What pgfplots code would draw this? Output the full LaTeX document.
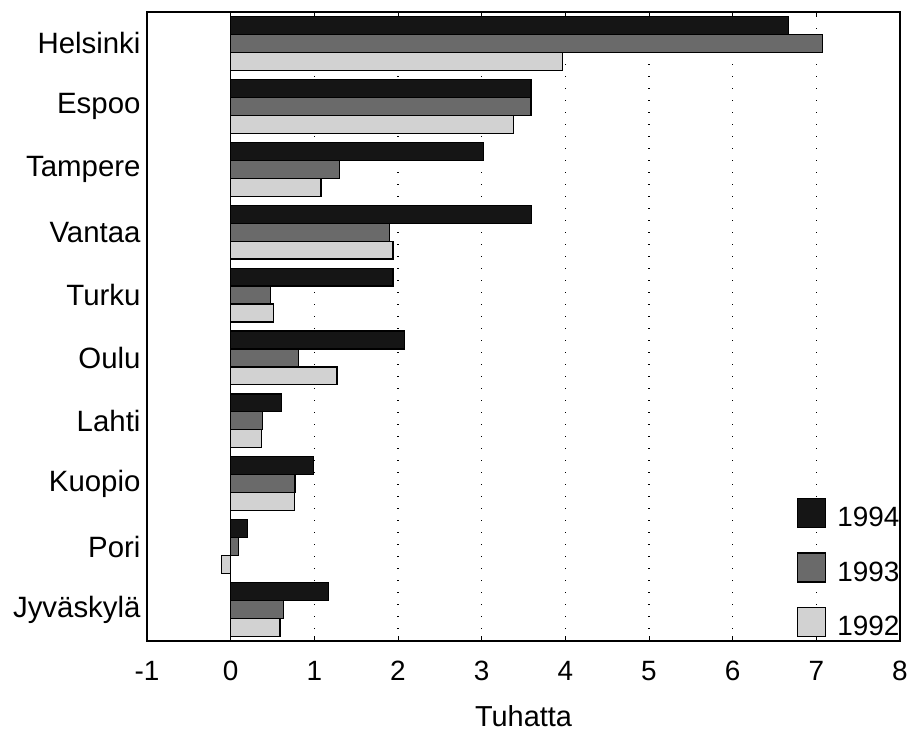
\documentclass[border=0pt]{standalone}
\usepackage{pgfplots}
\pgfplotsset{compat=1.18}
\usepackage{fontspec}
\setmainfont{Liberation Sans}
\definecolor{c94}{HTML}{151515}
\definecolor{c93}{HTML}{6A6A6A}
\definecolor{c92}{HTML}{D2D2D2}
\begin{document}
\begin{tikzpicture}
\begin{axis}[name=ax, at={(0,0)}, anchor=south west,
  scale only axis, width=753bp, height=629bp,
  xbar, bar width=0.285,
  xmin=-1, xmax=8, ymin=-0.5, ymax=9.5,
  axis line style={line width=1.3bp},
  xtick={-1,0,1,2,3,4,5,6,7,8},
  xticklabels={-1,0,1,2,3,4,5,6,7,8},
  ytick={0,1,2,3,4,5,6,7,8,9},
  yticklabels={Jyväskylä,Pori,Kuopio,Lahti,Oulu,Turku,Vantaa,Tampere,Espoo,Helsinki},
  ytick style={draw=none},
  xtick pos=both, tick align=inside, major tick length=5bp,
  xtick style={line width=1bp, black},
  xmajorgrids,
  grid style={black, line width=1.3bp, dash pattern=on 1.3bp off 10.7bp},
  extra x ticks={0}, extra x tick labels={},
  extra x tick style={grid style={solid, black, line width=1.2bp}},
  xticklabel style={font=\fontsize{28}{32}\selectfont, anchor=base, yshift=-39bp},
  yticklabel style={font=\fontsize{29.5}{34}\selectfont, xshift=-3bp},
  xlabel={Tuhatta},
  xlabel style={at={(axis description cs:0.5,0)}, anchor=base, yshift=-85bp, font=\fontsize{29}{33}\selectfont},
  legend image code/.code={\draw[#1, line width=1.2bp] (0bp,-10bp) rectangle (28bp,19bp);},
  legend style={at={(0.8632,0.2273)}, anchor=north west, draw=none, fill=none,
    inner sep=0pt, font=\fontsize{28}{32}\selectfont, row sep=24bp,
    nodes={inner sep=0pt},
    /tikz/every odd column/.append style={column sep=11bp}},
  legend cell align=left,
]
\addplot[draw=black, line width=1.2bp, fill=c94, bar shift=0.285] coordinates {
 (6.67,9) (3.59,8) (3.02,7) (3.60,6) (1.94,5) (2.08,4) (0.61,3) (0.99,2) (0.20,1) (1.17,0)};
\addplot[draw=black, line width=1.2bp, fill=c93, bar shift=0] coordinates {
 (7.07,9) (3.59,8) (1.30,7) (1.90,6) (0.48,5) (0.81,4) (0.38,3) (0.77,2) (0.09,1) (0.63,0)};
\addplot[draw=black, line width=1.2bp, fill=c92, bar shift=-0.285] coordinates {
 (3.97,9) (3.38,8) (1.08,7) (1.94,6) (0.51,5) (1.27,4) (0.37,3) (0.76,2) (-0.11,1) (0.59,0)};
\legend{1994,1993,1992}
\end{axis}
\pgfresetboundingbox
\path[use as bounding box] (-147bp,-94bp) rectangle (764bp,641bp);
\end{tikzpicture}
\end{document}
